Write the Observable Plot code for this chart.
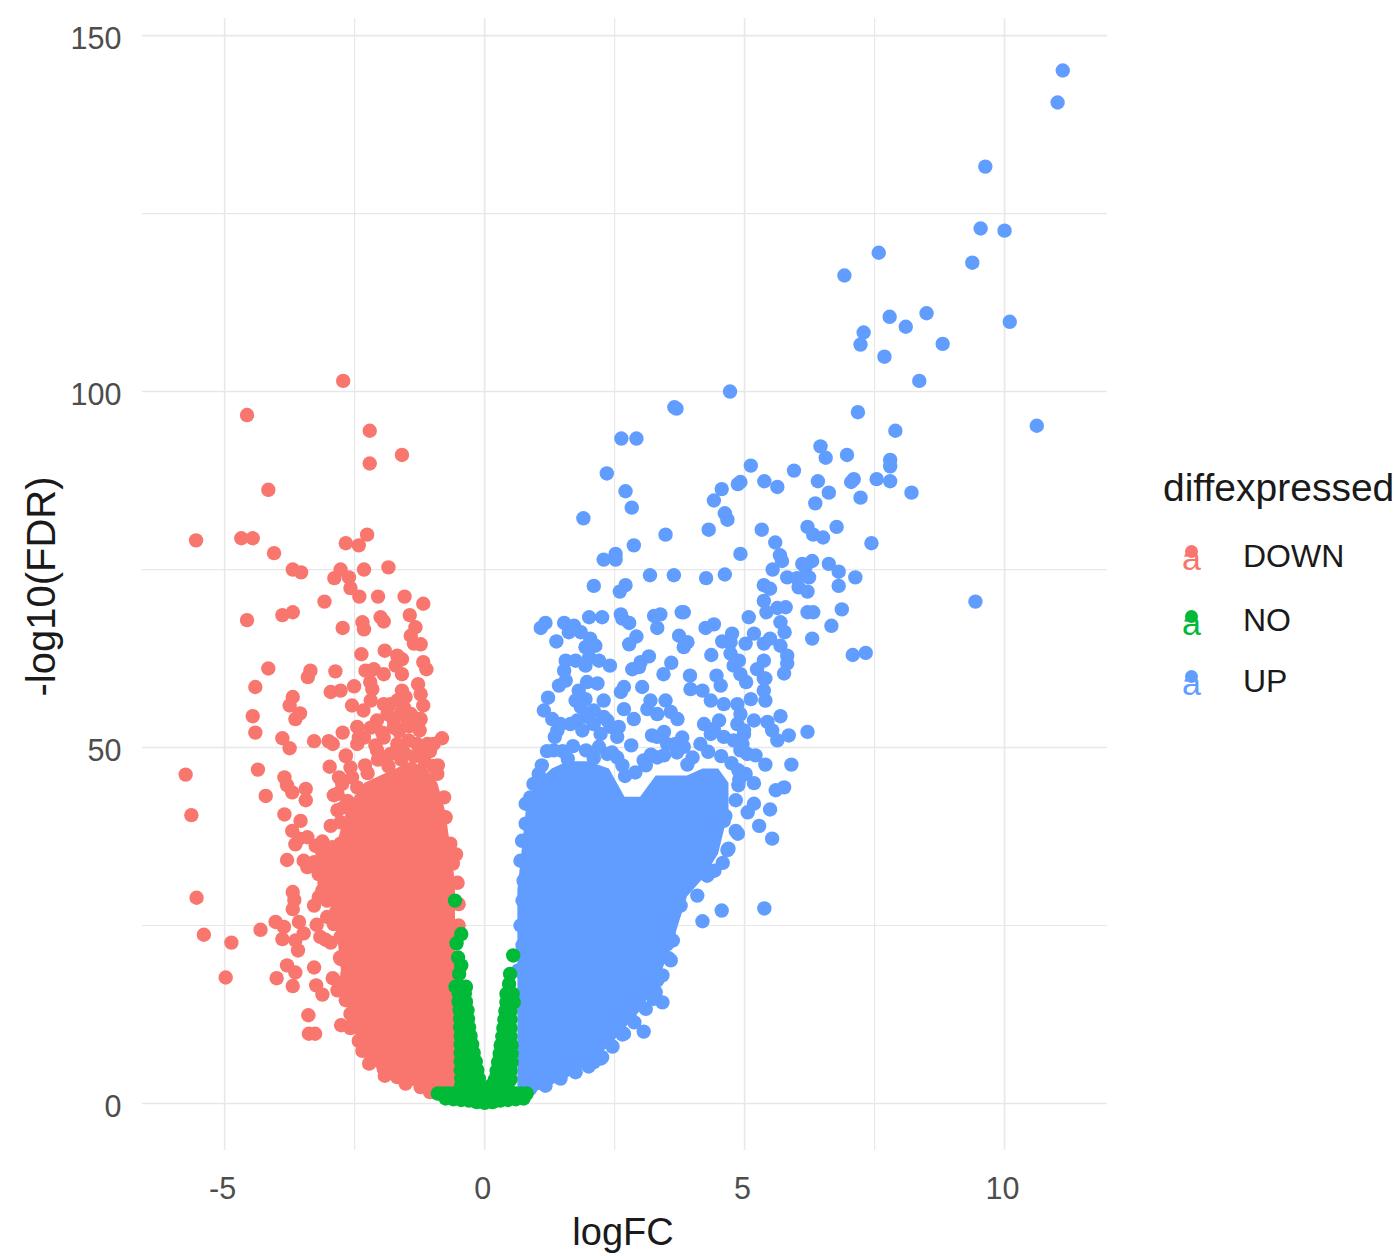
<!DOCTYPE html>
<html>
<head>
<meta charset="utf-8">
<script src="https://cdn.jsdelivr.net/npm/d3@7"></script>
<script src="https://cdn.jsdelivr.net/npm/@observablehq/plot@0.6"></script>
<style>
html,body{margin:0;padding:0;background:#fff}
#wrap{position:relative;width:1400px;height:1256px;font-family:"Liberation Sans",Arial,sans-serif;overflow:hidden}
#wrap svg{display:block}
.lg{position:absolute;color:#1a1a1a;white-space:nowrap;line-height:1}
.key{position:absolute;width:13px;height:13px;border-radius:50%}
</style>
</head>
<body>
<div id="wrap"></div>
<script>
const xMajor = [-5, 0, 5, 10];
const xMinor = [-2.5, 2.5, 7.5];
const yMajor = [0, 50, 100, 150];
const yMinor = [25, 75, 125];
const categories = ["DOWN", "NO", "UP"];
const colors = ["#F8766D", "#00BA38", "#619CFF"];

// Solid part of each cloud, where single points can no longer be told apart: logFC with lowest and highest -log10(FDR)
const downCoreX = [-3.00,-2.85,-2.70,-2.50,-2.30,-2.00,-1.70,-1.40,-1.10,-0.90,-0.75,-0.65,-0.56];
const downCoreLow = [29,25,15,10,7,4.3,3.2,2.5,1.8,1.5,1.5,1.5,1.5];
const downCoreHigh = [33,36,40,43,45,46,47,48,47,45,41,36,31];
const upCoreX = [0.64,0.70,0.80,1.00,1.30,1.60,2.00,2.40,2.70,3.00,3.30,3.60,3.90,4.20,4.50,4.70];
const upCoreLow = [2,1.5,1.5,1.7,2.6,3.6,5.5,8,10.5,13,16.5,22,29,31.5,35,41];
const upCoreHigh = [30,34,41,45,47,48,48,47,43,43,46,46,46,47,47,45];

const downPoints = [
[-2.72,101.5],[-4.57,96.7],[-2.21,94.5],[-1.59,91.1],[-2.21,89.9],[-4.16,86.2],[-5.55,79.1],[-4.68,79.4],[-4.46,79.4],
[-2.26,79.9],[-2.67,78.7],[-2.42,78.4],[-4.05,77.3],[-3.69,75.0],[-3.53,74.6],[-2.77,75.0],[-2.89,73.8],[-2.61,73.9],
[-2.58,72.4],[-2.41,71.2],[-2.32,75.0],[-1.85,75.3],[-2.05,71.2],[-1.54,71.2],[-1.18,70.2],[-3.08,70.5],[-4.57,67.9],
[-3.89,68.6],[-3.69,69.0],[-2.73,66.8],[-2.35,67.6],[-2.32,66.6],[-2.00,68.3],[-1.94,67.7],[-1.44,68.6],[-1.33,66.9],
[-1.42,65.7],[-1.36,64.6],[-1.23,64.5],[-2.37,63.1],[-1.92,63.6],[-1.68,62.9],[-1.59,62.4],[-1.71,61.5],[-1.18,62.0],
[-1.12,61.0],[-4.16,61.1],[-3.35,60.8],[-3.40,59.9],[-2.87,60.7],[-2.29,60.8],[-2.13,61.0],[-1.94,60.3],[-2.20,59.2],
[-1.59,60.3],[-4.41,58.5],[-2.96,57.8],[-2.77,58.0],[-2.51,58.6],[-2.16,58.2],[-1.28,58.9],[-1.23,57.5],[-1.59,58.0],
[-1.52,57.1],[-3.69,57.1],[-3.75,55.9],[-3.55,54.8],[-3.64,54.0],[-4.46,54.4],[-4.41,52.1],[-2.55,55.9],[-2.33,55.2],
[-2.19,56.6],[-1.81,56.1],[-1.87,54.7],[-1.62,54.7],[-1.42,54.7],[-1.23,54.0],[-1.18,55.9],[-2.07,53.8],[-2.19,52.8],
[-1.97,52.1],[-2.45,52.9],[-2.73,52.1],[-3.89,51.3],[-3.75,49.9],[-3.28,50.9],[-3.00,50.9],[-2.92,50.5],[-2.42,51.4],
[-2.10,50.3],[-0.82,51.3],[-2.67,48.8],[-1.81,49.1],[-1.46,51.0],[-1.10,50.5],[-1.26,49.1],[-1.55,49.3],[-1.95,48.6],
[-1.65,52.3],[-1.45,53.0],[-1.75,52.8],[-1.25,52.4],[-1.05,49.5],
[-1.94,56.1],[-1.68,56.6],[-1.55,55.6],[-1.75,53.8],[-1.49,53.3],[-1.36,54.2],[-1.94,51.4],[-1.68,50.5],[-1.30,50.5],
[-0.98,50.5],[-2.07,49.6],[-2.32,51.4],[-2.45,50.5],[-2.30,47.5],[-2.05,48.3],[-0.90,47.5],
[-5.75,46.2],[-5.64,40.5],[-4.36,46.9],[-4.21,43.2],[-3.85,45.8],[-3.80,44.7],[-3.70,43.7],[-3.44,44.2],[-3.44,42.6],
[-3.85,40.6],[-3.54,39.7],[-3.70,38.3],[-3.57,37.2],[-3.64,36.4],[-3.41,37.4],[-3.25,36.2],[-3.12,36.8],[-3.80,34.2],
[-3.48,34.1],[-3.28,33.9],[-3.41,33.2],[-5.54,28.9],[-5.40,23.7],[-4.87,22.6],[-4.98,17.7],[-3.69,29.7],[-3.66,28.6],
[-3.69,27.3],[-3.28,27.8],[-4.31,24.4],[-4.02,25.5],[-3.86,24.8],[-3.89,23.1],[-3.57,25.5],[-3.48,23.9],[-3.64,22.9],
[-3.59,21.5],[-3.23,25.1],[-3.06,23.0],[-2.96,22.6],[-3.80,19.4],[-3.64,18.4],[-4.00,17.6],[-3.69,16.5],[-3.28,19.1],
[-3.24,16.6],[-3.12,15.3],[-2.92,17.6],[-3.39,12.4],[-3.38,9.8],[-3.26,9.8],[-2.76,11.0],[-2.58,10.6],[-2.98,47.3],
[-2.80,45.8],[-2.67,48.9],[-2.58,47.2],[-2.83,43.5],[-2.71,41.6],[-2.96,39.0],[-2.77,39.5],[-2.58,37.4],[-3.03,34.1],
[-3.09,32.5],[-2.96,31.3],[-2.80,35.5],[-2.77,20.3],[-2.58,18.9],[-0.61,33.7],
[-2.90,43.3],[-2.74,44.9],[-2.55,45.8],[-2.83,41.2],[-2.64,42.5],[-2.45,44.4],[-3.12,35.1],[-2.93,36.0],[-2.77,36.5],
[-3.22,33.4],[-3.19,32.2],[-3.03,31.8],[-3.12,29.9],[-3.19,29.0],[-3.03,28.5],[-3.03,26.2],[-2.90,25.2],[-2.77,23.4],
[-3.16,23.4],[-2.64,22.0],[-2.71,24.3],[-2.64,18.2],[-2.83,15.9],[-2.67,14.5],[-2.58,12.6],[-2.42,8.8],[-2.35,7.4],
[-2.19,6.0],[-1.94,4.9],[-1.68,3.7],[-1.52,2.8],[-1.23,2.3],
[-0.91,46.3],[-0.78,43.0],[-0.75,40.2],[-0.66,36.5],[-0.55,35.0],[-0.52,31.0],[-0.50,28.0],[-0.50,25.0],
[-3.00,34.5],[-3.08,31.0],[-2.85,27.0],[-2.78,20.5],[-2.74,17.0],[-2.55,11.0],[-2.22,5.6],[-1.92,3.9],[-1.05,1.6],
[-2.25,46.4],[-1.60,48.3],[-1.35,48.8],[-1.15,48.0],[-0.98,47.4],[-1.85,47.4]
];

const noPoints = [
[-0.57,28.5],[-0.45,23.8],[-0.54,22.5],[-0.51,20.5],[-0.45,19.4],[-0.49,18.2],[-0.46,16.4],[-0.56,16.4],[-0.36,16.4],
[0.55,20.8],[0.49,18.2],
[-0.50,15.5],[-0.38,15.5],[-0.50,14.3],[-0.36,14.3],[-0.48,13.1],[-0.33,13.1],[-0.47,11.9],[-0.32,11.9],[-0.47,10.7],[-0.30,10.7],
[-0.46,9.5],[-0.36,9.5],[-0.27,9.5],[-0.46,8.3],[-0.35,8.3],[-0.24,8.3],[-0.46,7.1],[-0.33,7.1],[-0.21,7.1],[-0.46,5.9],[-0.32,5.9],[-0.17,5.9],
[-0.46,4.7],[-0.30,4.7],[-0.14,4.7],[-0.45,3.5],[-0.28,3.5],[-0.11,3.5],[-0.45,2.5],[-0.28,2.5],[-0.10,2.5],
[0.47,16.8],[0.42,15.4],[0.54,15.4],[0.42,14.2],[0.56,14.2],[0.40,13.0],[0.50,13.0],[0.38,11.8],[0.50,11.8],[0.36,10.6],[0.50,10.6],
[0.34,9.4],[0.50,9.4],[0.31,8.2],[0.42,8.2],[0.52,8.2],[0.29,7.0],[0.40,7.0],[0.52,7.0],[0.26,5.8],[0.38,5.8],[0.52,5.8],
[0.23,4.6],[0.36,4.6],[0.50,4.6],[0.20,3.4],[0.34,3.4],[0.50,3.4],[0.12,2.5],[0.28,2.5],[0.44,2.5],
[-0.90,1.4],[-0.80,1.4],[-0.70,1.4],[-0.60,1.4],[-0.50,1.4],[-0.40,1.4],[-0.30,1.4],[-0.20,1.4],[-0.10,1.4],
[0.10,1.4],[0.20,1.4],[0.30,1.4],[0.40,1.4],[0.50,1.4],[0.60,1.4],[0.70,1.4],[0.81,1.4],
[-0.75,0.7],[-0.60,0.6],[-0.45,0.5],[-0.30,0.4],[-0.15,0.2],[0,0.1],[0.15,0.2],[0.30,0.4],[0.45,0.5],[0.60,0.6],[0.75,0.7]
];

const upPoints = [
[11.12,145.1],[11.02,140.6],[9.63,131.6],[9.54,122.9],[10.00,122.6],[9.38,118.1],[7.58,119.5],[6.92,116.3],[10.10,109.8],
[7.79,110.5],[8.50,111.0],[8.10,109.1],[7.29,108.3],[7.23,106.6],[8.81,106.7],[7.69,104.9],[10.62,95.2],
[3.65,97.8],[3.69,97.6],[2.63,93.4],[2.92,93.4],[2.35,88.5],[2.71,86.0],[2.83,83.7],[1.90,82.2],[3.48,79.9],[2.87,78.4],
[4.72,100.0],[7.18,97.1],[8.36,101.5],[7.90,94.5],[6.46,92.3],[6.56,90.7],[6.97,91.1],[7.80,90.4],[7.80,89.5],[5.12,89.6],
[5.95,88.9],[4.92,87.3],[4.87,87.0],[5.38,87.4],[5.63,86.6],[4.56,86.3],[4.41,84.7],[6.41,87.4],[6.62,85.8],[6.36,84.3],
[7.10,87.7],[7.05,87.3],[7.54,87.7],[7.80,87.4],[8.21,85.8],[7.23,85.1],[4.62,82.9],[4.67,82.0],[4.31,80.6],[5.33,80.6],
[6.21,81.0],[6.32,79.9],[6.51,79.5],[6.77,81.0],[5.59,78.8],[7.44,78.7],[4.92,77.2],[5.68,77.0],[5.72,76.2],[5.54,75.0],
[6.30,76.2],[6.11,75.8],[6.17,75.3],[6.62,75.8],[6.81,74.7],[7.13,73.9],[9.44,70.5],[4.26,73.8],[4.62,74.3],[5.82,73.9],
[6.01,73.8],[6.24,73.9],[6.04,72.5],[6.21,71.9],[5.37,72.8],[5.49,72.3],[6.81,72.7],[5.37,70.6],[5.42,69.0],[5.63,69.6],
[5.79,69.7],[6.21,69.0],[6.32,69.0],[6.87,69.4],[6.67,67.1],[6.30,65.3],[7.08,63.0],[7.33,63.3],[5.08,68.3],[4.41,67.3],
[4.25,66.8],[5.69,67.6],[5.77,66.2],[4.76,66.0],[4.57,64.9],[4.73,64.8],[5.18,66.0],[5.02,64.6],[5.49,65.3],[5.37,64.6],
[5.69,64.3],[5.82,62.9],[5.82,61.8],[5.76,60.4],[4.36,63.0],[4.73,63.2],[4.89,62.2],[4.79,61.5],[4.92,60.3],[5.03,59.2],
[5.37,62.2],[5.24,61.0],[5.37,59.7],[3.95,60.1],[4.46,60.1],[4.54,58.7],[3.83,69.0],
[2.52,77.2],[2.29,76.4],[2.52,76.4],[3.18,74.2],[3.64,74.2],[2.10,72.7],[2.71,72.8],[2.60,71.9],[2.62,68.7],[2.65,68.1],
[2.78,67.5],[2.01,68.3],[2.26,68.3],[3.38,68.7],[3.32,66.8],[3.26,68.5],[3.79,69.0],[1.17,67.5],[1.08,66.8],[1.53,67.5],
[1.72,67.1],[1.62,66.2],[1.85,66.2],[2.03,65.3],[2.13,64.3],[1.94,64.1],[2.01,62.7],[2.20,62.2],[1.94,61.5],[2.41,61.5],
[1.75,62.2],[1.56,62.2],[1.38,64.9],[1.53,60.8],[1.56,59.4],[1.43,58.7],[2.92,65.6],[2.78,64.5],[3.74,65.7],[3.90,64.8],
[3.83,64.1],[3.16,62.8],[3.00,62.0],[2.84,61.0],[2.97,61.3],[3.59,61.9],[3.44,60.3],
[2.68,58.5],[2.62,57.8],[3.03,58.5],[1.97,59.2],[2.17,59.0],[1.81,58.0],[1.75,56.6],[1.94,56.8],[2.29,56.6],[1.22,57.0],
[1.14,55.2],[1.30,54.0],[1.85,55.7],[2.10,55.2],[2.29,54.3],[2.58,52.9],[2.68,55.4],[2.87,54.0],[3.19,56.6],[3.13,55.4],
[3.48,56.6],[3.32,54.7],[3.58,55.0],[3.71,54.0],[3.96,58.2],[4.19,58.0],[4.35,56.6],[4.60,56.1],[4.86,56.1],[5.12,56.8],
[5.40,56.6],[5.40,59.7],[5.37,58.0],[4.92,54.7],[4.86,53.3],[4.99,51.9],[4.96,50.5],[5.18,53.8],[5.44,53.6],[5.69,54.4],
[5.53,52.4],[5.63,51.0],[5.85,51.7],[6.21,52.2],[4.22,53.3],[4.51,53.8],[4.41,52.6],[3.22,51.7],[3.45,52.2],[3.80,51.4],
[3.67,50.5],[2.82,50.3],[1.97,54.3],[1.65,53.3],[2.36,53.8],[1.40,52.4],
[1.46,53.3],[1.78,53.8],[2.10,53.3],[2.42,52.9],[1.88,52.4],[2.23,51.9],[2.55,51.5],[1.33,49.6],[2.36,49.1],[2.55,48.6],
[3.06,48.2],[3.32,48.6],[3.32,51.5],[3.51,50.5],[3.83,50.1],[4.15,50.5],[4.35,51.9],[4.60,51.5],[4.79,51.0],[4.92,49.6],
[5.05,49.1],[4.99,52.4],[4.99,46.3],[1.10,47.5],[1.20,49.5],[1.35,51.5],[2.65,47.5],[2.90,46.5],[3.10,47.5],
[1.50,49.5],[1.70,50.2],[1.95,49.6],[2.20,50.1],[2.45,49.3],[2.70,46.0],[3.20,49.0],[3.45,48.9],[3.70,49.3],[4.00,48.6],
[4.30,49.4],[4.55,48.8],[4.75,47.8],[4.90,45.5],[2.10,48.5],[1.60,48.4],[3.90,47.6],
[5.21,48.9],[5.40,47.6],[5.90,47.6],[5.02,46.3],[5.18,45.0],[5.60,44.0],[5.76,44.4],[5.18,42.1],[5.06,40.9],[5.49,41.3],
[5.28,39.0],[5.53,37.2],[4.83,38.3],[4.67,35.6],[4.60,39.7],[5.38,27.4],[4.56,27.1],[4.19,25.6],[3.06,10.1],[2.77,12.5],
[3.58,20.1],[3.42,14.2],[3.25,14.7],[2.79,12.1],[2.68,9.8],[2.26,6.5],[2.10,5.8],[3.32,17.3],[3.51,22.4],[3.54,24.1],
[4.28,32.0],[4.09,29.2],[3.77,27.8],[3.64,26.7],[4.87,37.9],[4.69,35.8],[4.58,33.8],[4.42,32.7],[4.63,40.4],[4.83,42.6],
[4.88,44.7],[4.88,46.8],
[1.04,46.3],[0.94,44.9],[0.88,43.0],[0.79,42.1],[0.79,39.3],[0.72,36.9],[0.69,34.1],[0.75,31.3],[0.73,28.5],[0.69,25.0],
[0.73,22.2],[0.65,18.7],
[0.88,2.1],[1.17,2.5],[1.46,3.5],[1.75,4.4],[2.00,5.2],[2.23,6.3],[2.46,8.0],[2.65,9.7],[2.88,11.4],[3.10,13.3],[3.29,15.6],
[3.42,18.0],[3.54,20.4],[3.62,22.9]
];

const gridColor = "#E8E8E8";
const tickColor = "#4D4D4D";
const dotR = 7.2;

const chart = Plot.plot({
  width: 1400, height: 1256,
  marginLeft: 142, marginRight: 293, marginTop: 18, marginBottom: 106,
  x: {domain: [-6.58, 11.98]},
  y: {domain: [-6.6, 152.4]},
  style: {background: "#fff", fontFamily: '"Liberation Sans",Arial,sans-serif'},
  marks: [
    Plot.ruleX(xMinor, {stroke: gridColor, strokeWidth: 1.2}),
    Plot.ruleY(yMinor, {stroke: gridColor, strokeWidth: 1.2}),
    Plot.ruleX(xMajor, {stroke: gridColor, strokeWidth: 1.6}),
    Plot.ruleY(yMajor, {stroke: gridColor, strokeWidth: 1.6}),
    Plot.areaY(downCoreX, {x: d => d, y1: (d, i) => downCoreLow[i], y2: (d, i) => downCoreHigh[i], fill: colors[0]}),
    Plot.areaY(upCoreX, {x: d => d, y1: (d, i) => upCoreLow[i], y2: (d, i) => upCoreHigh[i], fill: colors[2]}),
    Plot.dot(downPoints, {x: d => d[0], y: d => d[1], r: dotR, fill: colors[0]}),
    Plot.dot(upPoints, {x: d => d[0], y: d => d[1], r: dotR, fill: colors[2]}),
    Plot.dot(noPoints, {x: d => d[0], y: d => d[1], r: dotR, fill: colors[1]}),
    Plot.axisX({ticks: xMajor, tickSize: 0, tickPadding: 27, fontSize: 30.5, color: tickColor, label: null, tickFormat: d => String(d), dx: -2}),
    Plot.axisY({ticks: yMajor, tickSize: 0, tickPadding: 21, fontSize: 30.5, color: tickColor, label: null, tickFormat: d => String(d), dy: 4}),
    Plot.text(["logFC"], {frameAnchor: "bottom", dy: 94, dx: -2, fontSize: 38, fill: "#1a1a1a", lineAnchor: "bottom"}),
    Plot.text(["-log10(FDR)"], {frameAnchor: "left", textAnchor: "middle", dx: -100, dy: 2, rotate: -90, fontSize: 40, fill: "#1a1a1a"})
  ]
});
const wrap = document.getElementById("wrap");
wrap.appendChild(chart);

function addText(txt, left, top, size, color) {
  const el = document.createElement("div");
  el.className = "lg";
  el.textContent = txt;
  el.style.left = left + "px";
  el.style.top = top + "px";
  el.style.fontSize = size + "px";
  if (color) el.style.color = color;
  wrap.appendChild(el);
}
addText("diffexpressed", 1163, 468, 39);
const keyTop = [545, 610, 670];
const labelTop = [540, 604, 665];
categories.forEach((c, i) => {
  addText("a", 1182, keyTop[i] - 4, 34, colors[i]);
  const k = document.createElement("div");
  k.className = "key";
  k.style.left = "1185px";
  k.style.top = keyTop[i] + "px";
  k.style.background = colors[i];
  wrap.appendChild(k);
  addText(c, 1243, labelTop[i], 32);
});
</script>
</body>
</html>
